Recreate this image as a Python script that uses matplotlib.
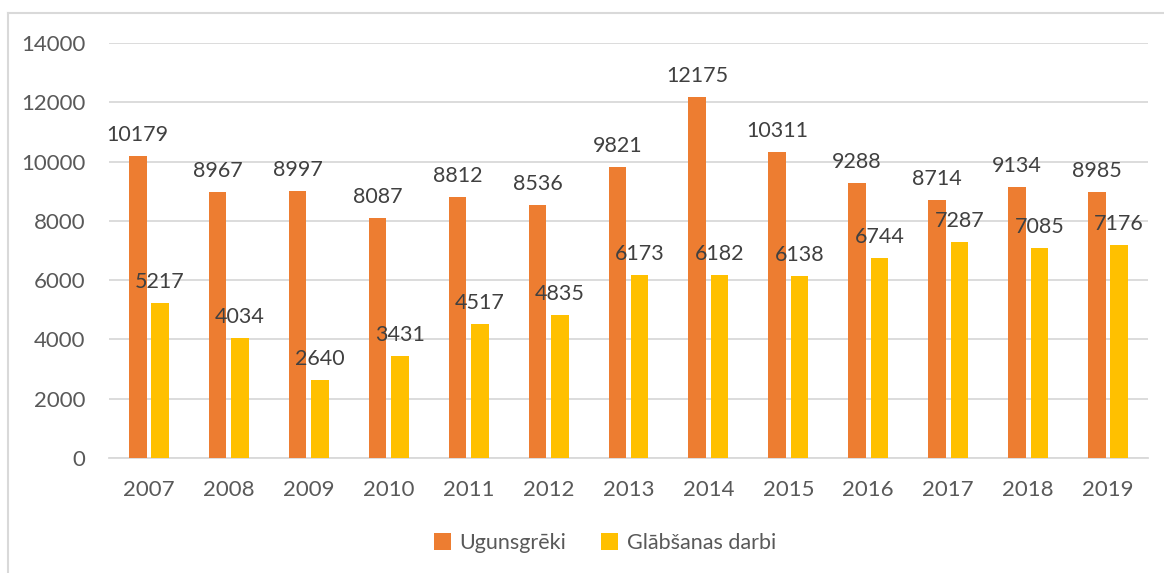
import matplotlib.pyplot as plt
import numpy as np
from matplotlib.lines import Line2D

years = ["2007", "2008", "2009", "2010", "2011", "2012", "2013",
         "2014", "2015", "2016", "2017", "2018", "2019"]
fires = [10179, 8967, 8997, 8087, 8812, 8536, 9821, 12175, 10311, 9288, 8714, 9134, 8985]
rescue = [5217, 4034, 2640, 3431, 4517, 4835, 6173, 6182, 6138, 6744, 7287, 7085, 7176]
series_names = ["Ugunsgrēki", "Glābšanas darbi"]

plt.rcParams['font.family'] = ['Lato', 'DejaVu Sans']
text_col = "#595959"
grid_col = "#D9D9D9"

W, H = 1164, 573
fig = plt.figure(figsize=(W / 100, H / 100), dpi=100)
ax = fig.add_axes([109 / W, 1 - 458 / H, (1148 - 109) / W, (458 - 43) / H])

x = np.arange(len(years))
bw = 0.22
b1 = ax.bar(x - 0.14, fires, bw, color="#ED7D31", label=series_names[0], zorder=3)
b2 = ax.bar(x + 0.14, rescue, bw, color="#FFC000", label=series_names[1], zorder=3)

for bars in (b1, b2):
    for rect in bars:
        h = rect.get_height()
        ax.annotate(str(int(h)), (rect.get_x() + rect.get_width() / 2, h),
                    xytext=(0, 8), textcoords="offset points",
                    ha="center", va="bottom", fontsize=15.5, color="#404040")

ax.set_xlim(-0.5, len(years) - 0.5)
ax.set_ylim(0, 14000)
ax.set_yticks(np.arange(0, 14001, 2000))
ax.set_xticks(x)
ax.set_xticklabels(years)
ax.yaxis.grid(True, color=grid_col, linewidth=1.3, zorder=0)
ax.set_axisbelow(True)
for s in ["top", "right", "left"]:
    ax.spines[s].set_visible(False)
ax.spines["bottom"].set_color(grid_col)
ax.spines["bottom"].set_linewidth(1.3)
ax.tick_params(axis="both", length=0, labelsize=16, labelcolor=text_col)
ax.tick_params(axis="y", pad=17)
ax.tick_params(axis="x", pad=16)

# chart border (left and top edges visible)
fig.add_artist(Line2D([8 / W, 8 / W], [0, 1 - 13 / H], color=grid_col, lw=1.5,
                      transform=fig.transFigure))
fig.add_artist(Line2D([8 / W, 1], [1 - 13 / H, 1 - 13 / H], color=grid_col, lw=1.5,
                      transform=fig.transFigure))

fig.legend(loc="center", bbox_to_anchor=(605 / W, 1 - 543 / H), ncol=2,
           frameon=False, fontsize=15.5, labelcolor=text_col,
           handlelength=0.8, handleheight=0.8, handletextpad=0.4,
           columnspacing=1.6)

fig.savefig("out.png", dpi=100)
